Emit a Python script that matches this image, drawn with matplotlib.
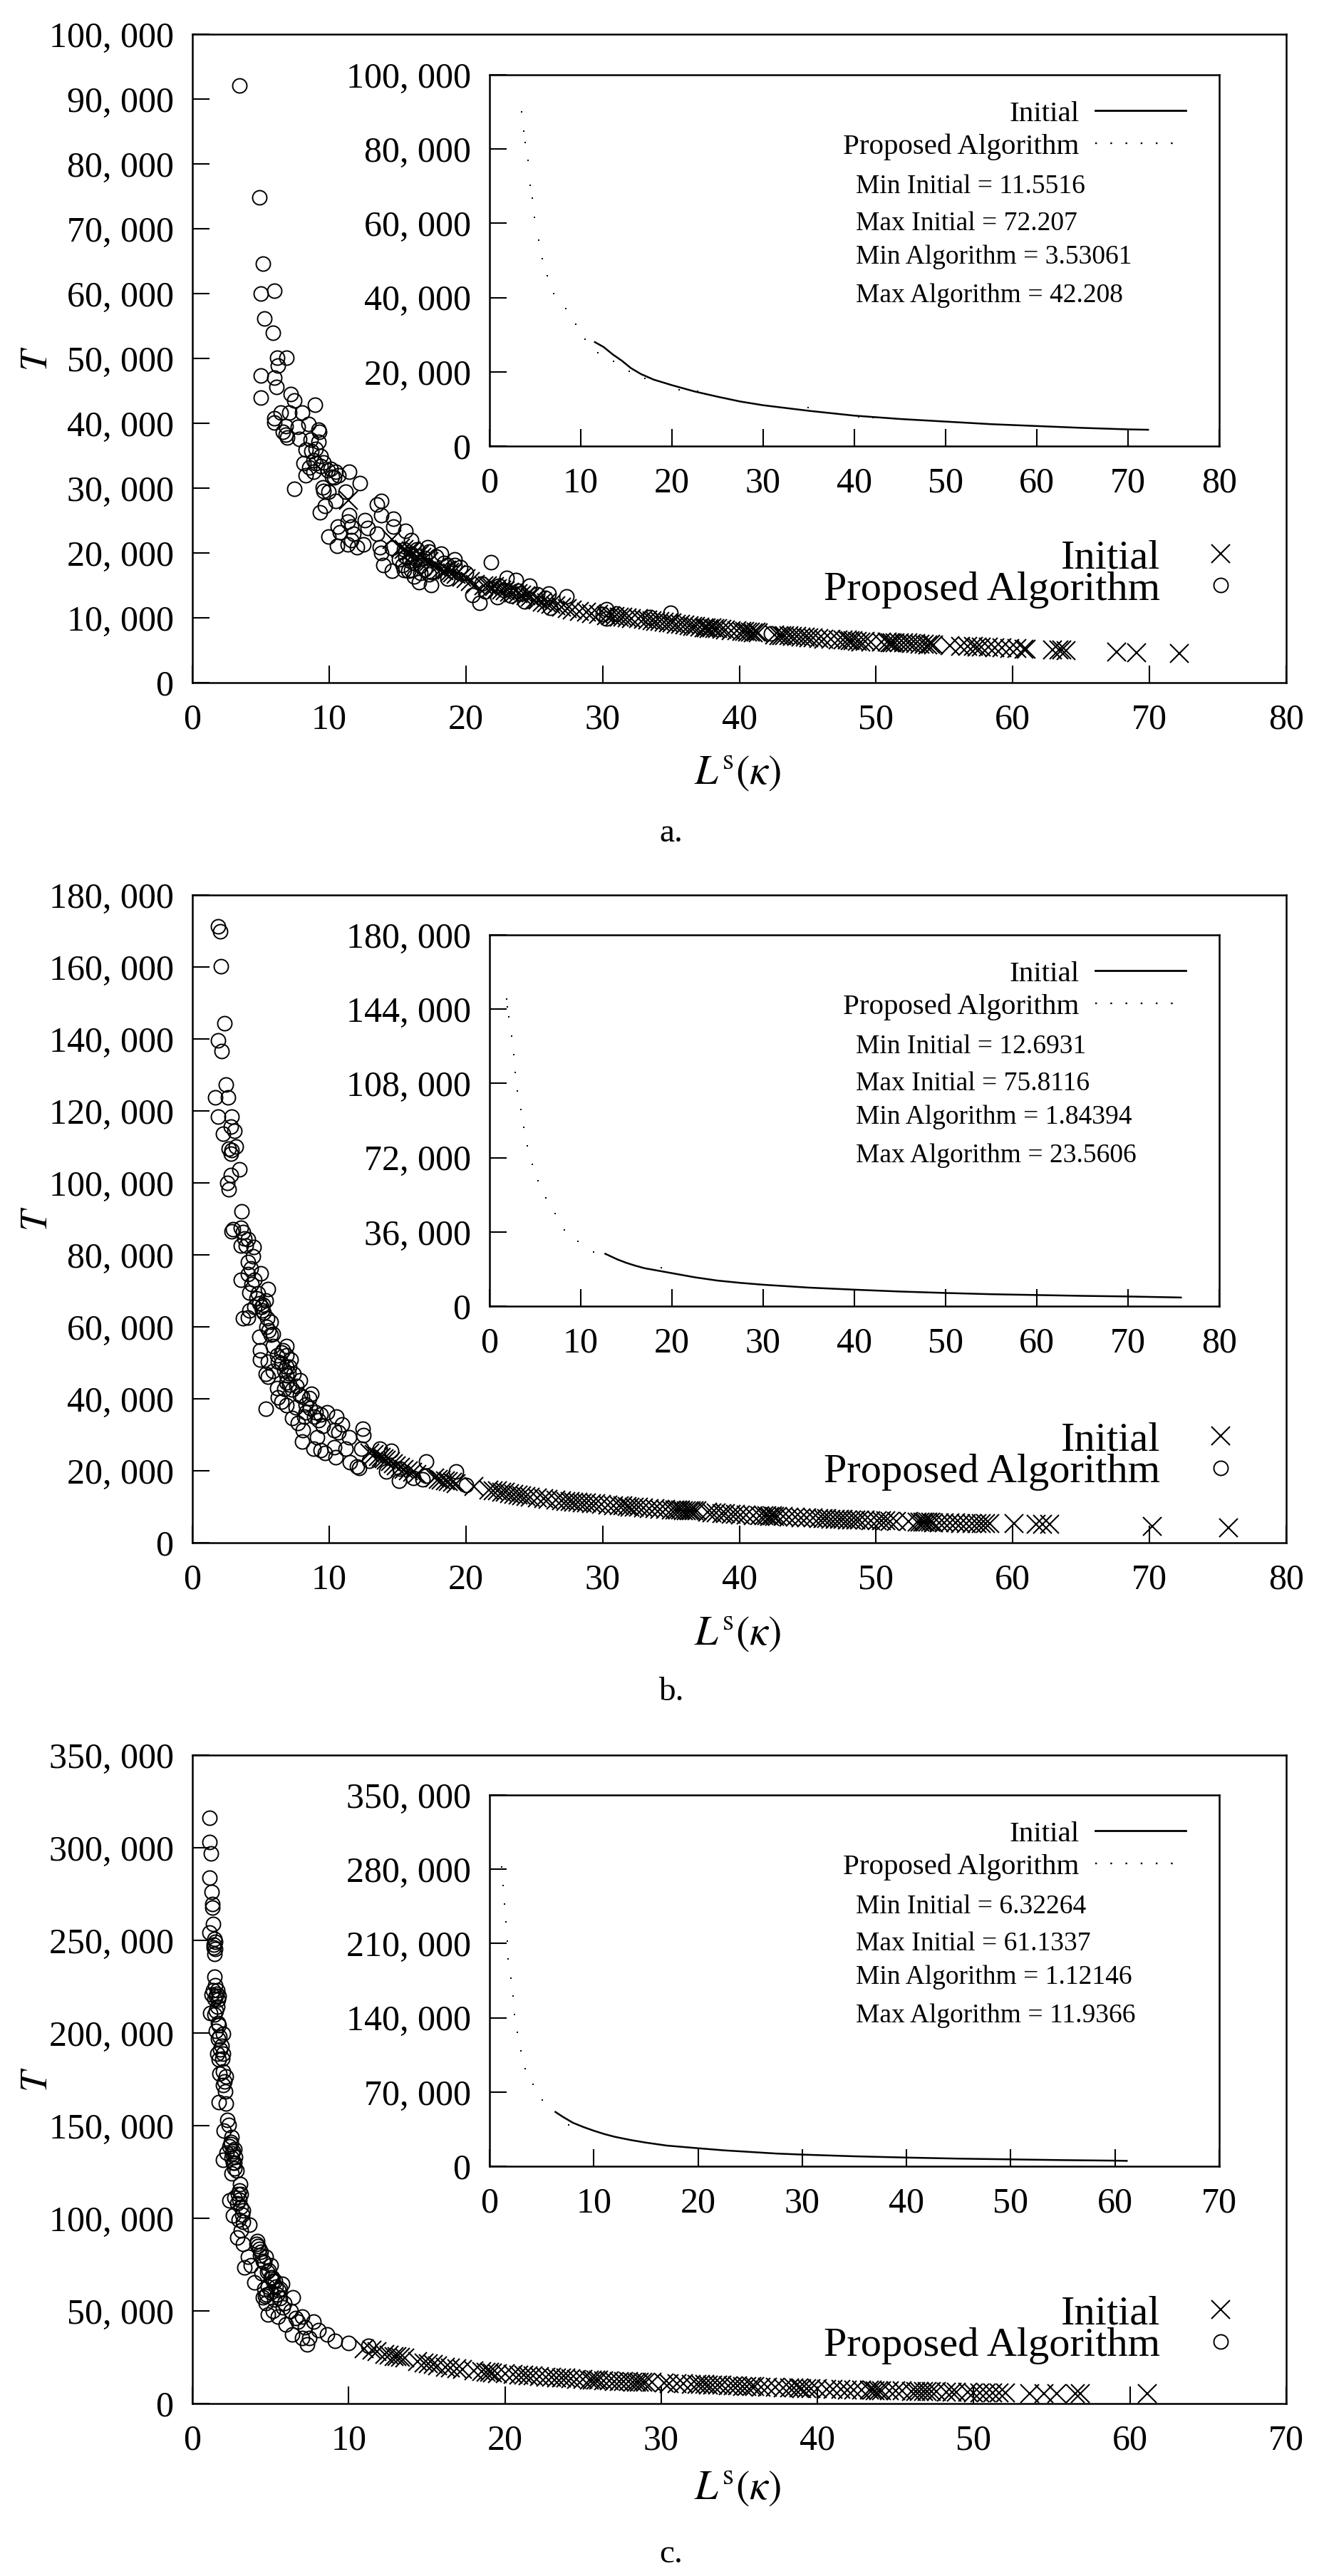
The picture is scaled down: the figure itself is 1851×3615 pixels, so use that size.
import matplotlib
matplotlib.use("Agg")
import matplotlib.pyplot as plt
from matplotlib.lines import Line2D

plt.rcParams['font.family'] = ['Liberation Serif', 'DejaVu Serif']
plt.rcParams['mathtext.fontset'] = 'stix'

W, H = 1851, 3615

# --- panel a ---
a_alg_x = [3.45, 4.88, 5.15, 5.02, 6.01, 5.25, 5.91, 6.21, 6.88, 6.28, 4.98, 5.98, 6.15, 5.02, 7.2, 7.47, 8.94,
           8.04, 6.45, 7.08, 5.98, 6.01, 6.81, 7.71, 8.47, 9.2, 9.3, 6.61, 6.81, 6.94, 7.81, 8.67, 9.2, 8.27, 8.7,
           8.87, 9.04, 9.37, 8.14, 8.54, 8.27, 8.87, 10.47, 10.7, 11.46, 10.37, 12.26, 7.47, 9.53, 9.6, 11.2, 9.93,
           10.47, 9.67, 9.34, 13.79, 13.52, 13.79, 11.46, 11.36, 12.62, 14.68, 10.63, 11.6, 12.8, 14.68, 10.8, 11.8,
           13.52, 15.6, 9.97, 11.6, 16.0, 12.5, 11.36, 10.6, 12.03, 13.69, 13.79, 14.58, 17.18, 17.3, 18.17, 15.5,
           16.0, 16.5, 17.0, 19.17, 13.95, 15.35, 14.58, 15.5, 16.0, 16.68, 16.58, 17.44, 17.3, 18.67, 19.17, 18.67,
           20.0, 21.86, 20.5, 21.0, 21.16, 23.0, 23.65, 24.65, 22.33, 22.4, 24.3, 23.8, 26.08, 26.15, 27.38, 30.3,
           30.3, 33.46, 34.95, 42.3,
           9.6, 9.9, 10.2, 10.1, 9.0, 9.4, 15.6, 15.9, 16.2, 16.4, 16.7, 17.0, 17.5, 15.1, 15.8, 16.2, 17.8, 18.4,
           19.6, 22.8, 23.3, 24.0, 25.2, 25.8, 21.4, 31.0, 30.0]
a_alg_y = [92100, 74800, 64600, 60000, 60400, 56200, 54000, 50100, 50100, 48900, 47400, 47000, 45600, 44000, 44500,
           43500, 42900, 41700, 41700, 41700, 40800, 40100, 39600, 39400, 39900, 39000, 38700, 38700, 38200, 37800,
           37600, 37500, 37100, 35900, 35700, 34300, 33900, 33400, 33800, 33200, 32000, 32500, 32500, 32000, 32500,
           31700, 30800, 29900, 30100, 29600, 29400, 29400, 28000, 27300, 26300, 28000, 27500, 25800, 25800, 24800,
           25100, 25300, 24100, 24100, 23900, 24100, 23200, 23000, 23000, 23400, 22500, 22000, 22000, 21300, 21300,
           21100, 20900, 20900, 20000, 20800, 20900, 20200, 19900, 20600, 19900, 19500, 19200, 19000, 18100, 18100,
           17200, 17400, 17400, 16900, 15500, 15100, 16700, 18100, 18100, 16000, 16900, 18600, 13500, 12300, 15300,
           16200, 15800, 14900, 13200, 14900, 12500, 14200, 13700, 11500, 13300, 11300, 9900, 10100, 10800, 7600,
           34000, 32800, 31800, 33000, 36000, 35000, 19500, 18800, 18500, 20500, 18000, 17500, 17000, 19000, 17200,
           16400, 19400, 18500, 17800, 14300, 13400, 13700, 13600, 13100, 14100, 10700, 10500]
a_init_x = [11.4, 14.6, 15.2, 15.5, 15.8, 16.0, 16.2, 16.4, 16.6, 16.8, 17.0, 17.3, 17.9, 18.2, 18.4, 18.6, 18.8, 19.0,
            19.3, 19.7, 20.0, 20.3, 20.7, 21.3, 21.6, 21.9, 22.1, 22.3, 22.6, 22.9, 23.2, 23.5, 23.8, 24.1, 24.4, 24.7,
            25.0, 25.3, 25.6, 25.9, 26.2, 26.6, 27.0, 27.4, 27.8, 28.3, 28.8, 29.2, 29.7, 30.3, 30.6, 30.9, 31.2, 31.5,
            31.8, 32.1, 32.6, 33.0, 33.3, 33.6, 33.9, 34.2, 34.5, 34.8, 35.1, 35.4, 35.7, 36.0, 36.3, 36.6, 36.8, 37.1,
            37.4, 37.6, 37.8, 38.0, 38.2, 38.4, 38.7, 39.0, 39.4, 39.8, 40.2, 40.4, 40.6, 40.8, 41.0, 41.2, 41.4, 42.6,
            42.9, 43.1, 43.3, 43.6, 43.9, 44.2, 44.5, 44.8, 45.1, 45.4, 45.8, 46.2, 46.7, 47.2, 47.6, 47.9, 48.1, 48.3,
            48.6, 48.9, 49.2, 49.6, 50.4, 50.8, 51.0, 51.2, 51.4, 51.7, 52.0, 52.3, 52.6, 52.9, 53.2, 53.5, 53.8, 54.0,
            54.2, 55.4, 56.2, 56.7, 57.1, 57.4, 57.7, 58.2, 58.7, 59.2, 59.8, 60.3, 60.8, 61.0, 62.9, 63.4, 63.6, 63.9,
            67.6, 69.05, 72.2]
a_init_y = [28100, 22100, 20800, 20500, 20100, 20300, 19900, 19500, 19800, 19300, 19100, 18700, 17800, 17500, 17200,
            17400, 17000, 16900, 16700, 16300, 16000, 15600, 15200, 14900, 15000, 14700, 14800, 14500, 14300, 14200,
            14000, 13900, 13700, 13500, 13400, 13200, 12800, 12700, 12400, 12300, 12100, 11900, 11700, 11400, 11200,
            11000, 10900, 10700, 10600, 10300, 10300, 10200, 10100, 10100, 10000, 9900, 9900, 9800, 9700, 9600, 9500,
            9400, 9300, 9200, 9200, 9000, 9000, 8900, 8800, 8700, 8700, 8600, 8500, 8500, 8400, 8500, 8300, 8300, 8200,
            8100, 8000, 8000, 7900, 7900, 7800, 7800, 7700, 7800, 7700, 7400, 7300, 7300, 7300, 7200, 7100, 7100, 7000,
            7000, 6900, 6900, 6800, 6700, 6700, 6600, 6600, 6600, 6500, 6500, 6400, 6300, 6400, 6300, 6300, 6300, 6200,
            6200, 6200, 6100, 6100, 6100, 6000, 6000, 5900, 5900, 5800, 5900, 5800, 5700, 5650, 5600, 5550, 5500, 5500,
            5500, 5400, 5400, 5300, 5250, 5200, 5200, 5050, 5050, 5050, 5000, 4700, 4650, 4500]
a_line_x = [11.55, 12.5, 13.5, 14.5, 15.5, 16.6, 18, 20, 22.5, 25, 27.5, 30, 35, 40, 45, 50, 55, 60, 65, 70, 72.2]
a_line_y = [28000, 26700, 24700, 23000, 21000, 19400, 17900, 16400, 14700, 13300, 12000, 11000, 9500, 8200, 7300,
            6600, 5900, 5400, 4900, 4500, 4400]
a_dot_x = [3.53, 3.78, 3.93, 4.18, 4.48, 4.68, 4.93, 5.37, 5.77, 6.32, 7.06, 8.36, 9.45, 10.45, 11.84, 13.58, 15.32,
           17.06, 20.8, 22.84, 24.8, 34.9, 40.5, 42.0]
a_dot_y = [90000, 84900, 81800, 76900, 70200, 66700, 61600, 55500, 50500, 45900, 41000, 37000, 32800, 28700, 25200,
           22900, 20200, 18300, 15200, 14700, 13500, 10300, 7900, 7700]
a_yticks = [0, 10000, 20000, 30000, 40000, 50000, 60000, 70000, 80000, 90000, 100000]
a_inset_yticks = [0, 20000, 40000, 60000, 80000, 100000]
a_xticks = [0, 10, 20, 30, 40, 50, 60, 70, 80]
a_stats = ["Min Initial = 11.5516", "Max Initial = 72.207", "Min Algorithm = 3.53061", "Max Algorithm = 42.208"]

# --- panel b ---
b_alg_x = [1.89, 2.03, 2.06, 2.33, 1.89, 2.16, 2.43, 1.69, 2.59, 1.89, 2.86, 2.82, 3.09, 2.26, 3.19, 2.66, 2.89, 2.82,
           3.46, 2.79, 2.56, 2.66, 3.62, 2.96, 3.55, 2.89, 3.69, 4.05, 3.55, 4.49, 4.42, 4.05, 4.29, 4.98, 4.05, 3.55,
           4.55, 5.55, 4.32, 4.15, 4.82, 5.38, 5.15, 4.55, 5.05, 4.15, 5.48, 3.72, 4.05, 5.71, 4.88, 5.71, 5.88, 4.95,
           6.88, 6.54, 4.95, 6.28, 7.21, 5.55, 6.88, 5.88, 7.04, 5.38, 5.55, 7.87, 6.88, 6.21, 6.71, 8.7, 7.87, 6.28,
           8.54, 6.54, 6.88, 5.38, 7.54, 8.27, 9.87, 9.04, 9.37, 7.28, 8.2, 10.53, 7.71, 9.53, 10.93, 10.37, 12.46,
           12.52, 10.7, 8.1, 9.1, 11.46, 8.04, 8.87, 9.37, 10.37, 11.2, 12.36, 13.69, 14.52, 9.7, 10.47, 11.53, 12.03,
           12.2, 12.92, 17.11, 14.19, 15.18, 15.12, 16.18, 16.84, 17.11, 19.27, 20.0,
           5.2, 5.4, 5.6, 5.9, 6.2, 6.5, 6.7, 6.9, 7.1, 7.3, 6.6, 6.9, 7.1, 7.4, 7.6, 8.0, 8.3, 8.6, 8.9, 9.2, 4.7,
           4.9, 5.1, 3.8, 3.9]
b_alg_y = [171200, 169900, 160100, 144300, 139600, 136600, 127400, 123800, 123800, 118500, 118500, 115700, 114400,
           113600, 110100, 109500, 109100, 108100, 103700, 102200, 100000, 98200, 92000, 87200, 87600, 86600, 86300,
           84400, 82500, 82200, 79600, 78100, 76200, 74900, 74600, 73000, 73000, 70500, 71800, 69600, 69300, 67400,
           66100, 65500, 65500, 64600, 62300, 62300, 62500, 61300, 57200, 57900, 54700, 53400, 54700, 52800, 50900,
           50300, 50900, 50300, 49000, 47700, 47100, 46900, 46100, 45200, 44600, 43000, 42700, 41400, 41000, 40400,
           40100, 39200, 38200, 37300, 37600, 36300, 36300, 36300, 35700, 34700, 35100, 35100, 33200, 32500, 32900,
           31300, 31600, 30000, 30600, 31300, 29400, 29400, 28100, 26200, 25800, 26600, 26200, 26200, 26200, 25600,
           24900, 23700, 22400, 21100, 20800, 22700, 22500, 19900, 20500, 17300, 18000, 17700, 18600, 19900, 16100,
           64000, 60000, 59000, 58000, 52000, 50000, 48000, 46500, 44000, 42500, 53500, 52000, 49000, 47000, 43500,
           40500, 38500, 37500, 35000, 34000, 68000, 66500, 64500, 84500, 82500]
b_init_x = [13.0, 13.3, 13.6, 13.8, 14.0, 14.2, 14.5, 14.7, 14.9, 15.2, 15.5, 15.8, 16.1, 16.4, 17.7, 18.0, 18.2, 18.5,
            18.7, 19.0, 19.3, 20.6, 21.7, 22.0, 22.3, 22.6, 22.9, 23.2, 23.5, 23.8, 24.1, 24.4, 24.7, 25.2, 25.7, 26.0,
            26.6, 27.0, 27.3, 27.6, 27.9, 28.2, 28.5, 28.8, 29.2, 29.5, 29.9, 30.4, 30.8, 31.2, 31.5, 31.8, 32.0, 32.3,
            32.6, 33.0, 33.4, 33.8, 34.2, 34.6, 35.0, 35.3, 35.5, 35.7, 35.9, 36.1, 36.3, 36.5, 36.7, 36.9, 37.7, 38.0,
            38.3, 38.7, 39.0, 39.4, 39.7, 40.1, 40.5, 41.0, 41.5, 41.8, 42.0, 42.2, 42.4, 42.6, 42.8, 43.2, 43.6, 44.1,
            44.5, 44.9, 45.4, 45.8, 46.1, 46.4, 46.7, 47.0, 47.3, 47.6, 47.9, 48.2, 48.5, 48.8, 49.2, 49.6, 50.1, 50.4,
            50.7, 51.0, 51.5, 52.4, 53.0, 53.2, 53.4, 53.6, 53.8, 54.0, 54.2, 54.6, 55.0, 55.4, 55.8, 56.2, 56.6, 57.0,
            57.4, 57.7, 58.0, 58.3, 60.1, 61.7, 62.2, 62.7, 70.2, 75.8]
b_init_y = [25000, 24500, 24000, 23700, 23300, 23000, 22500, 22000, 21400, 20900, 20400, 20000, 19600, 19000, 18000,
            17700, 17500, 17300, 17100, 16900, 16500, 15600, 14700, 14500, 14400, 14100, 14000, 13700, 13500, 13300,
            13100, 12900, 12700, 12500, 12300, 12000, 11900, 11700, 11500, 11500, 11300, 11300, 11100, 11100, 10900,
            10900, 10700, 10500, 10300, 10200, 10200, 10100, 10000, 10000, 9900, 9700, 9600, 9500, 9400, 9300, 9200,
            9100, 9200, 9100, 9000, 9000, 9000, 8900, 9000, 8900, 8500, 8400, 8300, 8200, 8100, 8000, 7900, 7800, 7700,
            7600, 7600, 7500, 7500, 7400, 7500, 7400, 7400, 7300, 7200, 7100, 7000, 7000, 6900, 6800, 6700, 6700, 6600,
            6600, 6500, 6500, 6400, 6400, 6400, 6300, 6300, 6200, 6200, 6100, 6100, 6000, 6000, 5900, 5800, 5800, 5700,
            5700, 5700, 5700, 5600, 5600, 5500, 5500, 5500, 5400, 5400, 5400, 5400, 5300, 5300, 5300, 5300, 5200, 5200,
            5100, 4500, 4200]
b_line_x = [12.69, 14, 15, 16, 17, 18.5, 20, 22.5, 25, 27.5, 30, 35, 40, 45, 50, 55, 60, 65, 70, 75.8]
b_line_y = [25400, 22700, 21000, 19600, 18400, 17200, 16000, 14000, 12400, 11300, 10400, 9000, 8000, 7100, 6400, 5800,
            5400, 5000, 4700, 4200]
b_dot_x = [1.9, 1.95, 2.12, 2.4, 2.63, 2.85, 3.07, 3.41, 3.74, 4.13, 4.69, 5.31, 6.15, 7.15, 8.21, 9.72, 11.4, 18.8]
b_dot_y = [149000, 145000, 140100, 131100, 121900, 113300, 104400, 95300, 86700, 77700, 68900, 60700, 52400, 44800,
           37100, 31400, 26400, 18600]
b_yticks = [0, 20000, 40000, 60000, 80000, 100000, 120000, 140000, 160000, 180000]
b_inset_yticks = [0, 36000, 72000, 108000, 144000, 180000]
b_xticks = [0, 10, 20, 30, 40, 50, 60, 70, 80]
b_stats = ["Min Initial = 12.6931", "Max Initial = 75.8116", "Min Algorithm = 1.84394", "Max Algorithm = 23.5606"]

# --- panel c ---
c_alg_x = [1.10, 1.10, 1.19, 1.10, 1.22, 1.28, 1.28, 1.34, 1.08, 1.42, 1.37, 1.45, 1.37, 1.48, 1.42, 1.4, 1.45, 1.6,
           1.31, 1.22, 1.51, 1.42, 1.71, 1.6, 1.13, 1.42, 1.66, 1.71, 1.51, 1.95, 1.66, 1.8, 1.6, 1.95, 1.71, 1.95,
           1.74, 2.15, 1.95, 2.09, 1.71, 2.15, 2.24, 2.33, 2.0, 2.53, 2.38, 2.67, 2.18, 2.53, 1.95, 2.67, 2.53, 2.82,
           3.05, 3.11, 2.67, 2.38, 2.88, 3.26, 2.59, 2.97, 3.63, 3.11, 2.88, 4.13, 3.26, 4.27, 4.71, 3.55, 3.31, 3.75,
           5.03, 4.42, 3.98, 5.73, 4.85, 4.5, 5.44, 6.45, 4.71, 5.87, 5.15, 4.85, 6.31, 5.49, 7.03, 7.76, 6.74, 5.96,
           8.05, 8.63, 6.37, 7.47, 9.13, 7.03, 7.35, 9.97, 11.25, 2.45, 2.6, 2.75, 3.0, 4.2, 4.4, 4.6, 4.9, 5.1, 5.3,
           5.5, 4.75, 5.0, 5.25, 5.6,
           1.55, 1.65, 1.5, 1.75, 1.85, 1.9, 2.05, 2.45, 2.55, 2.6, 2.7, 2.9, 3.0, 3.1, 3.2, 3.25, 4.1, 4.35, 4.5, 4.8,
           5.0, 5.15, 5.35, 5.6, 5.8, 4.6, 4.65, 6.6, 7.2]
c_alg_y = [316000, 302900, 297100, 284000, 276200, 269500, 267700, 258700, 254100, 250600, 247700, 249100, 246200,
           245300, 242700, 230200, 225900, 223000, 223000, 220600, 220000, 218600, 220000, 214200, 210800, 209900,
           205500, 204100, 201200, 199700, 196800, 191000, 188700, 188700, 185800, 179400, 177900, 176500, 172100,
           168300, 162800, 161900, 153200, 150300, 147400, 143900, 138700, 137200, 135200, 132800, 131400, 129900,
           124100, 125600, 118300, 113100, 111000, 109600, 108100, 104400, 101700, 99400, 96500, 93600, 89800, 87800,
           86300, 83400, 79100, 79100, 73300, 74700, 74700, 70300, 65400, 64500, 63100, 57300, 58700, 57300, 54400,
           54400, 50000, 48000, 50000, 47100, 47100, 44200, 44200, 42700, 39800, 37500, 37500, 35500, 33700, 35500,
           32000, 32600, 31100, 141000, 136000, 133000, 115000, 85000, 82000, 76000, 72000, 68000, 66000, 61000, 59000,
           60000, 56000, 62000,
           221000, 218000, 212000, 198000, 193000, 186000, 174000, 140000, 135000, 130000, 127000, 113000, 110000,
           106000, 102000, 98000, 86000, 80000, 77000, 71000, 68000, 66000, 63000, 57000, 52000, 62000, 58000, 46000,
           41000]
c_init_x = [11.0, 11.5, 11.8, 12.3, 12.6, 12.9, 13.1, 13.3, 13.6, 14.4, 14.8, 15.1, 15.4, 15.7, 16.2, 16.5, 16.9, 17.3,
            18.0, 18.5, 18.8, 19.0, 19.2, 19.5, 20.0, 20.5, 20.9, 21.2, 21.5, 21.8, 22.2, 22.6, 23.0, 23.3, 23.6, 23.9,
            24.2, 24.6, 25.0, 25.4, 25.6, 25.8, 26.0, 26.3, 26.7, 27.0, 27.3, 27.6, 27.9, 28.2, 28.4, 28.6, 28.8, 29.0,
            29.4, 30.2, 30.5, 31.0, 31.4, 31.9, 32.3, 32.5, 32.8, 33.0, 33.3, 33.6, 33.9, 34.3, 34.6, 34.9, 35.2, 35.5,
            35.8, 36.0, 36.4, 36.8, 37.3, 37.8, 38.2, 38.5, 38.8, 39.0, 39.3, 39.6, 40.0, 40.6, 41.0, 41.5, 41.9, 42.3,
            42.8, 43.3, 43.5, 43.7, 43.9, 44.1, 44.6, 45.0, 45.4, 46.0, 46.3, 46.5, 46.8, 47.0, 47.3, 47.6, 48.25, 48.6,
            48.9, 49.6, 50.0, 50.4, 50.8, 51.2, 51.6, 52.05, 53.6, 54.5, 55.3, 56.5, 56.8, 61.1]
c_init_y = [29500, 28800, 28200, 26500, 26000, 25500, 25200, 25000, 24500, 22800, 22000, 21500, 21000, 20300, 19600,
            19200, 18800, 18400, 17700, 17200, 17000, 16900, 16700, 16300, 16000, 15700, 15400, 15200, 15000, 14900,
            14600, 14400, 14100, 14000, 13900, 13700, 13500, 13200, 13000, 12800, 12700, 12700, 12600, 12400, 12300,
            12100, 12000, 11900, 11800, 11700, 11700, 11600, 11500, 11500, 11400, 11000, 10900, 10800, 10700, 10500,
            10300, 10300, 10200, 10100, 10000, 10000, 9900, 9700, 9600, 9500, 9400, 9300, 9200, 9100, 9000, 8900, 8700,
            8600, 8500, 8400, 8300, 8200, 8100, 8100, 7900, 7800, 7700, 7600, 7500, 7400, 7300, 7200, 7200, 7100, 7100,
            7000, 6900, 6800, 6800, 6700, 6600, 6600, 6500, 6500, 6400, 6400, 6300, 6200, 6100, 6000, 5900, 5900, 5800,
            5800, 5700, 5600, 5500, 5500, 5500, 5400, 5400, 5200]
c_line_x = [6.32, 7, 8, 9, 10, 11, 12, 13.5, 15, 17, 20, 22.5, 25, 27.5, 30, 35, 40, 45, 50, 55, 60, 61.13]
c_line_y = [51200, 46800, 41000, 37000, 33500, 30400, 27800, 24800, 22300, 19500, 17000, 15000, 13500, 12000, 11000,
            9400, 8200, 7200, 6500, 5800, 5300, 5100]
c_dot_x = [1.13, 1.31, 1.44, 1.57, 1.7, 1.79, 2.05, 2.27, 2.4, 2.66, 3.01, 3.41, 4.15, 5.07, 7.6]
c_dot_y = [282400, 264700, 247000, 230200, 212400, 195200, 177500, 160700, 143000, 126200, 109000, 92300, 77100, 62400,
           39000]
c_yticks = [0, 50000, 100000, 150000, 200000, 250000, 300000, 350000]
c_inset_yticks = [0, 70000, 140000, 210000, 280000, 350000]
c_xticks = [0, 10, 20, 30, 40, 50, 60, 70]
c_stats = ["Min Initial = 6.32264", "Max Initial = 61.1337", "Min Algorithm = 1.12146", "Max Algorithm = 11.9366"]

fig = plt.figure(figsize=(W / 100, H / 100), dpi=100)


def px_axes(left, top, right, bottom):
    return fig.add_axes([left / W, 1 - bottom / H, (right - left) / W, (bottom - top) / H])


def fmt(v):
    return f"{v:,}".replace(",", ", ")


def style(ax, xticks, yticks):
    ax.set_xlim(xticks[0], xticks[-1])
    ax.set_ylim(yticks[0], yticks[-1])
    ax.set_xticks(xticks)
    ax.set_yticks(yticks, [fmt(v) for v in yticks])
    ax.tick_params(direction='in', length=17, width=1.5, labelsize=36, top=False, right=False)
    ax.tick_params(axis='x', pad=21)
    ax.tick_params(axis='y', pad=19)
    for s in ax.spines.values():
        s.set_linewidth(1.8)


def panel(top, bottom, itop, ibottom, xticks, yticks, iyticks, init, alg, line, dots, stats, letter, lab_y, let_y,
          leg_top):
    ax = px_axes(270, top, 1805, bottom)
    ax.plot(init[0], init[1], ls='none', marker='x', ms=18.7, mew=1.5, color='k', label='Initial')
    ax.plot(alg[0], alg[1], ls='none', marker='o', ms=14.4, mew=1.4, mfc='none', color='k',
            label='Proposed Algorithm')
    style(ax, xticks, yticks)
    ax.legend(loc='upper right', bbox_to_anchor=(1742 / W, 1 - leg_top / H), bbox_transform=fig.transFigure,
              frameon=False, markerfirst=False, fontsize=42, borderpad=0, borderaxespad=0, handlelength=1,
              handletextpad=0.95, labelspacing=-0.15)
    fig.text(53 / W, 1 - (top + bottom) / 2 / H, '$T$', fontsize=38, rotation=90, ha='center', va='center')
    fig.text(1035 / W, 1 - lab_y / H, r'$L^{\mathrm{s}}(\kappa)$', fontsize=42, ha='center', va='center')
    fig.text(942 / W, 1 - let_y / H, letter, fontsize=34, ha='center', va='center')

    ins = px_axes(687, itop, 1711, ibottom)
    ins.plot(line[0], line[1], color='k', lw=1.8, label='Initial')
    ins.plot(dots[0], dots[1], ls='none', marker='s', ms=1.8, mew=0, color='k')
    style(ins, xticks, iyticks)
    handles = [Line2D([], [], color='k', lw=2.0),
               Line2D([], [], color='k', lw=1.7, ls=(0, (1, 8)))]
    ins.legend(handles, ['Initial', 'Proposed Algorithm'], loc='upper right',
               bbox_to_anchor=(1664 / W, 1 - (itop + 36) / H), bbox_transform=fig.transFigure, frameon=False,
               markerfirst=False, fontsize=29.5, borderpad=0, borderaxespad=0, handlelength=3.1, handletextpad=0.55,
               labelspacing=0.2)
    for s, dy in zip(stats, [157, 209, 256, 310]):
        fig.text(1201 / W, 1 - (itop + dy) / H, s, fontsize=27, ha='left', va='center')


panel(48, 958, 105, 626, a_xticks, a_yticks, a_inset_yticks, (a_init_x, a_init_y), (a_alg_x, a_alg_y),
      (a_line_x, a_line_y), (a_dot_x, a_dot_y), a_stats, 'a.', 1085, 1170, 757)
panel(1256, 2165, 1312, 1833, b_xticks, b_yticks, b_inset_yticks, (b_init_x, b_init_y), (b_alg_x, b_alg_y),
      (b_line_x, b_line_y), (b_dot_x, b_dot_y), b_stats, 'b.', 2293, 2375, 1995)
panel(2463, 3373, 2519, 3040, c_xticks, c_yticks, c_inset_yticks, (c_init_x, c_init_y), (c_alg_x, c_alg_y),
      (c_line_x, c_line_y), (c_dot_x, c_dot_y), c_stats, 'c.', 3492, 3585, 3221)

fig.savefig('out.png', dpi=100)
